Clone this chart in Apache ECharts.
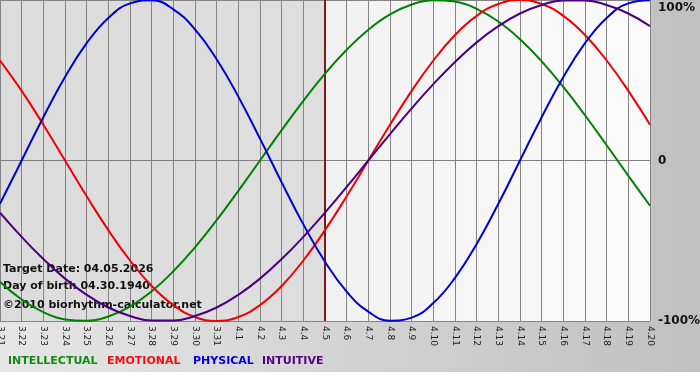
<!DOCTYPE html>
<html>
<head>
<meta charset="utf-8">
<script src="https://cdn.jsdelivr.net/npm/echarts@6/dist/echarts.min.js"></script>
<style>
html,body{margin:0;padding:0;background:#fff;}
#chart{width:700px;height:380px;}
</style>
</head>
<body>
<div id="chart"></div>
<script>
var categories = ['3.21','3.22','3.23','3.24','3.25','3.26','3.27','3.28','3.29','3.30','3.31',
  '4.1','4.2','4.3','4.4','4.5','4.6','4.7','4.8','4.9','4.10','4.11','4.12','4.13','4.14','4.15','4.16','4.17','4.18','4.19','4.20'];
var intellectual = [-0.756,-0.866,-0.945,-0.990,-0.999,-0.972,-0.910,-0.815,-0.690,-0.541,-0.372,-0.189,0,0.189,0.372,0.541,0.690,0.815,0.910,0.972,0.999,0.990,0.945,0.866,0.756,0.618,0.458,0.282,0.095,-0.095,-0.282];
var emotional = [0.623,0.434,0.223,0,-0.223,-0.434,-0.623,-0.782,-0.901,-0.975,-1.000,-0.975,-0.901,-0.782,-0.623,-0.434,-0.223,0,0.223,0.434,0.623,0.782,0.901,0.975,1.000,0.975,0.901,0.782,0.623,0.434,0.223];
var physical = [-0.270,0,0.270,0.520,0.731,0.888,0.979,0.998,0.942,0.817,0.631,0.398,0.136,-0.136,-0.398,-0.631,-0.817,-0.942,-0.998,-0.979,-0.888,-0.731,-0.520,-0.270,0,0.270,0.520,0.731,0.888,0.979,0.998];
var intuitive = [-0.325,-0.476,-0.614,-0.736,-0.837,-0.916,-0.969,-0.997,-0.997,-0.969,-0.916,-0.837,-0.736,-0.614,-0.476,-0.325,-0.165,0,0.165,0.325,0.476,0.614,0.736,0.837,0.916,0.969,0.997,0.997,0.969,0.916,0.837];
var yTickLabels = {'-1':'-100%','0':'0','1':'100%'};
var targetDay = '4.5';
var infoLines = ['Target Date: 04.05.2026','Day of birth 04.30.1940','\u00a92010 biorhythm-calculator.net'];
var legendNames = ['INTELLECTUAL','EMOTIONAL','PHYSICAL','INTUITIVE'];

var colors = {INTELLECTUAL:'#008000', EMOTIONAL:'#f00000', PHYSICAL:'#0000d0', INTUITIVE:'#4b0082'};
var legendColors = {INTELLECTUAL:'#128a12', EMOTIONAL:'#ee1111', PHYSICAL:'#0000dd', INTUITIVE:'#550088'};
var legendX = [8,107,193,262];
var FONT = 'DejaVu Sans';

var chart = echarts.init(document.getElementById('chart'), null, {renderer:'canvas'});

function line(name, data, extra){
  var s = {
    name:name, type:'line', data:data, smooth:0.45, symbol:'none',
    lineStyle:{color:colors[name], width:2}, itemStyle:{color:colors[name]},
    z:3, animation:false
  };
  if (extra) for (var k in extra) s[k]=extra[k];
  return s;
}

var graphics = [
  {type:'rect', left:0, top:372, shape:{width:700,height:8}, style:{fill:'#ffffff'}, silent:true}
];
infoLines.forEach(function(t,i){
  graphics.push({type:'text', left:3, top:[264,281,300][i], z:1,
    style:{text:t, fill:'#111', font:'bold 11px "'+FONT+'"'}});
});
legendNames.forEach(function(n,i){
  graphics.push({type:'text', left:legendX[i], top:356,
    style:{text:n, fill:legendColors[n], font:'bold 11px "'+FONT+'"'}});
});

var option = {
  animation:false,
  backgroundColor:{type:'linear',x:0,y:0,x2:1,y2:0,colorStops:[{offset:0,color:'#e6e6e6'},{offset:1,color:'#c0c0c0'}]},
  grid:{left:0, right:50, top:0, bottom:59, show:true, borderWidth:0, containLabel:false, outerBoundsMode:'none',
    backgroundColor:{type:'linear',x:0,y:0,x2:1,y2:0,colorStops:[
      {offset:0,color:'#dcdcdc'},{offset:0.5,color:'#dedede'},{offset:0.5,color:'#f1f1f1'},{offset:1,color:'#fbfbfb'}]}},
  xAxis:{type:'category', data:categories, boundaryGap:false,
    axisLine:{show:true, lineStyle:{color:'#808080', width:1}},
    axisTick:{show:true, length:4, interval:0, lineStyle:{color:'#808080'}},
    axisLabel:{interval:0, rotate:-90, margin:5, color:'#222', fontSize:9, fontFamily:FONT, hideOverlap:false},
    splitLine:{show:true, interval:0, lineStyle:{color:'#848484', width:1}}
  },
  yAxis:{type:'value', position:'right', min:-1, max:1, interval:1,
    axisLine:{show:false}, axisTick:{show:false},
    axisLabel:{margin:8, color:'#111', fontSize:12, fontWeight:'bold', fontFamily:FONT,
      formatter:function(v){ var t = yTickLabels[String(v)]; return v===1 ? '{top|'+t+'}' : t; },
      rich:{top:{padding:[16,0,0,0], fontSize:12, fontWeight:'bold', fontFamily:FONT, color:'#111'}}},
    splitLine:{show:true, lineStyle:{color:'#848484', width:1}}
  },
  graphic:graphics,
  series:[
    line('INTELLECTUAL', intellectual, {markLine:{silent:true, symbol:'none', label:{show:false},
      lineStyle:{color:'#7a1a1a', width:2, type:'solid'}, data:[{xAxis:targetDay}], z:2}}),
    line('EMOTIONAL', emotional),
    line('PHYSICAL', physical),
    line('INTUITIVE', intuitive)
  ]
};
chart.setOption(option);
</script>
</body>
</html>
